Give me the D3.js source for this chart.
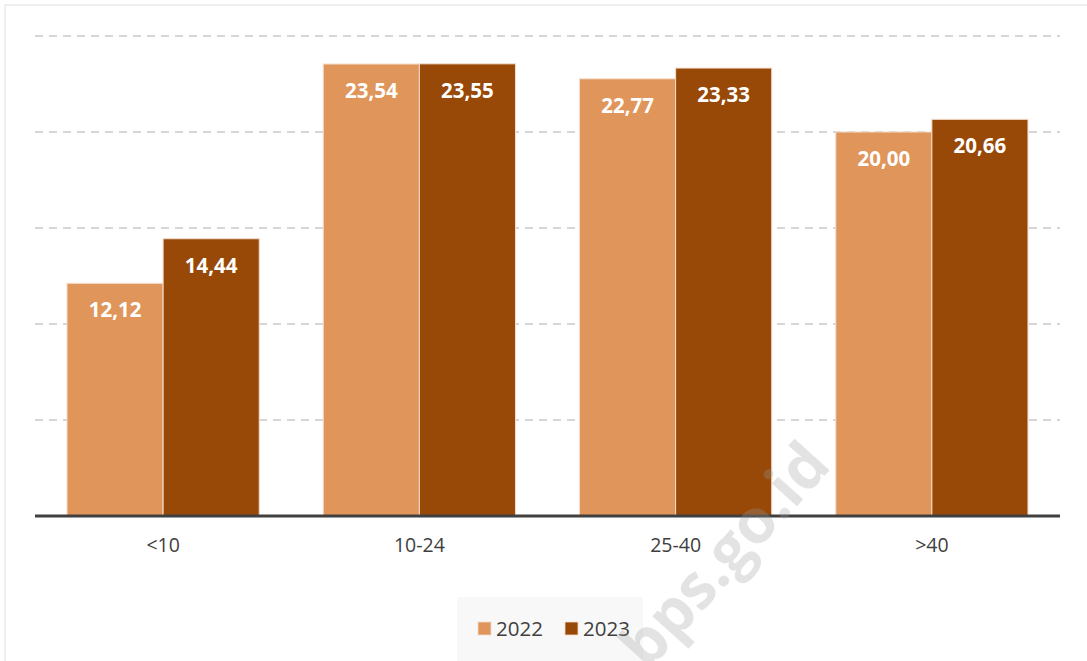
<!DOCTYPE html>
<html>
<head>
<meta charset="utf-8">
<script src="https://cdn.jsdelivr.net/npm/d3@7"></script>
<style>
  html, body { margin: 0; padding: 0; background: #ffffff; }
  svg { display: block; }
</style>
</head>
<body>
<svg id="chart" width="1087" height="661"></svg>
<script>
const categories = ["<10", "10-24", "25-40", ">40"];
const seriesNames = ["2022", "2023"];
const values2022 = [12.12, 23.54, 22.77, 20.00];
const values2023 = [14.44, 23.55, 23.33, 20.66];
const yTicks = [5, 10, 15, 20, 25];
const colors = ["#E0955A", "#984807"];

(function () {
const W = 1087, H = 661;
const svg = d3.select("#chart");
const font = "'Open Sans', 'Noto Sans', sans-serif";
const locale = d3.formatLocale({decimal: ",", thousands: ".", grouping: [3], currency: ["", ""]});
const fmt = locale.format(".2f");

// outer frame (light border at top/left)
svg.append("rect").attr("x", 5).attr("y", 5).attr("width", W + 10).attr("height", H + 10)
  .attr("fill", "#ffffff").attr("stroke", "#efefef").attr("stroke-width", 2);

const pLeft = 35, pRight = 1060, pTop = 36, pBottom = 516;
const x = d3.scaleBand().domain(categories).range([pLeft, pRight]).paddingInner(0.25).paddingOuter(0.125);
const xs = d3.scaleBand().domain(seriesNames).range([0, x.bandwidth()]).padding(0);
const y = d3.scaleLinear().domain([0, 25]).range([pBottom, pTop]);

// gridlines
svg.append("g").selectAll("line").data(yTicks).join("line")
  .attr("x1", pLeft).attr("x2", pRight)
  .attr("y1", d => y(d)).attr("y2", d => y(d))
  .attr("stroke", "#c9c9c9").attr("stroke-width", 1.5).attr("stroke-dasharray", "8,6");

const data = categories.map((c, i) => ({cat: c, vals: [values2022[i], values2023[i]]}));

const groups = svg.append("g").selectAll("g").data(data).join("g")
  .attr("transform", d => `translate(${x(d.cat)},0)`);

groups.selectAll("rect").data(d => d.vals.map((v, j) => ({s: seriesNames[j], v, j}))).join("rect")
  .attr("x", d => xs(d.s))
  .attr("y", d => y(d.v))
  .attr("width", xs.bandwidth())
  .attr("height", d => y(0) - y(d.v))
  .attr("fill", d => colors[d.j])
  .attr("stroke", "#f3dccb").attr("stroke-width", 1);

groups.selectAll("text").data(d => d.vals.map((v, j) => ({s: seriesNames[j], v, j}))).join("text")
  .attr("x", d => xs(d.s) + xs.bandwidth() / 2)
  .attr("y", d => y(d.v) + 34)
  .attr("text-anchor", "middle")
  .attr("fill", "#ffffff")
  .attr("font-family", font).attr("font-weight", "bold").attr("font-size", 20.5)
  .text(d => fmt(d.v));

// baseline axis
const xAxis = d3.axisBottom(x).tickSize(0).tickPadding(22);
const ax = svg.append("g").attr("transform", `translate(0,${pBottom})`).call(xAxis);
ax.select(".domain").attr("stroke", "#404040").attr("stroke-width", 3)
  .attr("d", `M${pLeft},0H${pRight}`);
ax.selectAll("text").attr("font-family", font).attr("font-size", 19.5).attr("fill", "#404040");

// legend
const lg = svg.append("g");
lg.append("rect").attr("x", 457).attr("y", 597).attr("width", 186).attr("height", 70).attr("fill", "#f8f8f8");
const items = lg.selectAll("g").data(seriesNames).join("g")
  .attr("transform", (d, i) => `translate(${478 + i * 87},0)`);
items.append("rect").attr("x", 0).attr("y", 622).attr("width", 13).attr("height", 13)
  .attr("fill", (d, i) => colors[i]).attr("stroke", "#f3dccb").attr("stroke-width", 0.8);
items.append("text").attr("x", 18).attr("y", 636)
  .attr("font-family", font).attr("font-size", 20.5).attr("fill", "#404040").text(d => d);

// watermark
svg.append("text")
  .attr("transform", "translate(728,558) rotate(-48)")
  .attr("text-anchor", "middle").attr("dominant-baseline", "middle")
  .attr("font-family", font).attr("font-weight", "bold").attr("font-size", 62)
  .attr("fill", "#9a9a9a").attr("fill-opacity", 0.28)
  .text("bps.go.id");
})();
</script>
</body>
</html>
